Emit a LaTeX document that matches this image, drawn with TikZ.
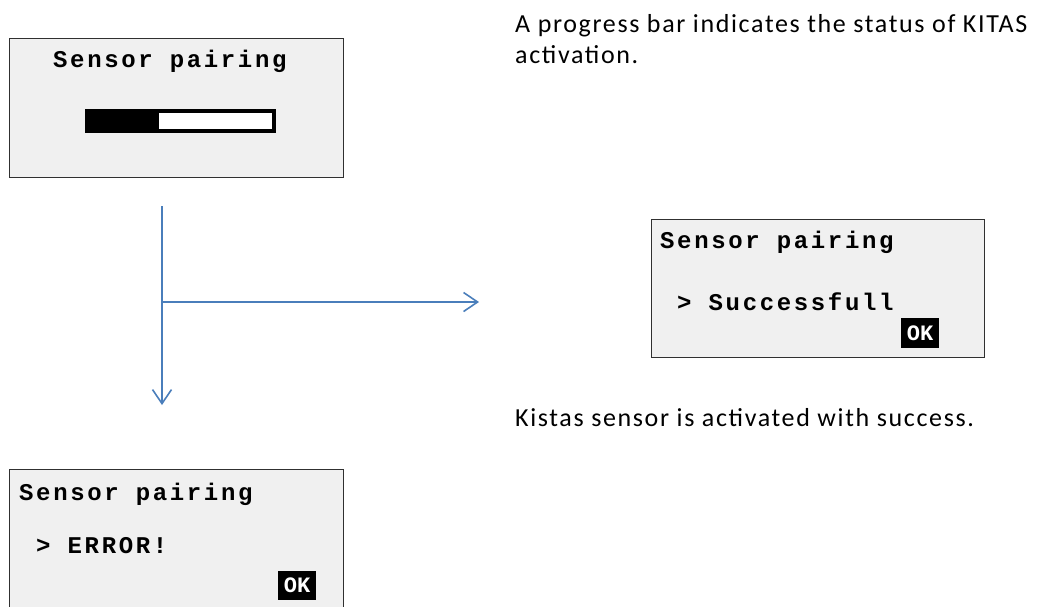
\documentclass[tikz,border=0pt]{standalone}
\usepackage{fontspec}
\setmainfont{Carlito}
\newfontfamily\lcdfont[LetterSpace=11]{Liberation Mono}
\newfontfamily\okfont{Liberation Mono}
\newfontfamily\notefont[LetterSpace=6.3]{Carlito}
\usetikzlibrary{arrows.meta}
\definecolor{flowblue}{HTML}{4A7EBB}
\definecolor{lcdgray}{HTML}{F0F0F0}
\definecolor{lcdborder}{HTML}{303030}
\tikzset{
  lcd/.style={draw=lcdborder, fill=lcdgray, line width=1pt},
  lcdtext/.style={anchor=base west, inner sep=0pt, font=\lcdfont\bfseries\fontsize{24}{24}\selectfont},
  okbox/.style={fill=black, text=white, inner sep=0pt, font=\okfont\bfseries\fontsize{22}{22}\selectfont},
  note/.style={anchor=base west, inner sep=0pt, font=\notefont\fontsize{26}{26}\selectfont},
  flow/.style={draw=flowblue, line width=1.6pt, -{Straight Barb[length=14pt,width=19pt,line width=1.6pt]}},
}
\begin{document}
\begin{tikzpicture}[x=1pt,y=-1pt]
\useasboundingbox (0,0) rectangle (1037,606);
% box 1
\draw[lcd] (9,38) rectangle (343,177);
\node[lcdtext] (t1) at (53,67) {Sensor pairing};
\fill[black] (85,109) rectangle (276,133);
\fill[white] (159,113) rectangle (272,129);
% box 2
\draw[lcd] (651,219) rectangle (984,357);
\node[lcdtext] (t2) at (660,248) {Sensor pairing};
\node[lcdtext] (s2) at (660,310) {\ > Successfull};
\node[okbox, minimum width=38pt, minimum height=30pt] (ok2) at (920,333) {OK};
% box 3
\draw[lcd] (9,620) -- (9,469) -- (343,469) -- (343,620);
\node[lcdtext] (t3) at (19,500) {Sensor pairing};
\node[lcdtext] (s3) at (19,553) {\ > ERROR!};
\node[okbox, minimum width=38pt, minimum height=29pt] (ok3) at (297,585.5) {OK};
% arrows
\coordinate (top) at (162,206);
\coordinate (mid) at (162,302);
\coordinate (down) at (162,405);
\coordinate (right) at (479,302);
\draw[flow] (top) -- (down);
\draw[flow] (mid) -- (right);
% notes
\node[note] (n1) at (515,32) {A progress bar indicates the status of KITAS};
\node[note] (n2) at (515,63) {activation.};
\node[note] (n3) at (515,426) {Kistas sensor is activated with success.};
\end{tikzpicture}
\end{document}
